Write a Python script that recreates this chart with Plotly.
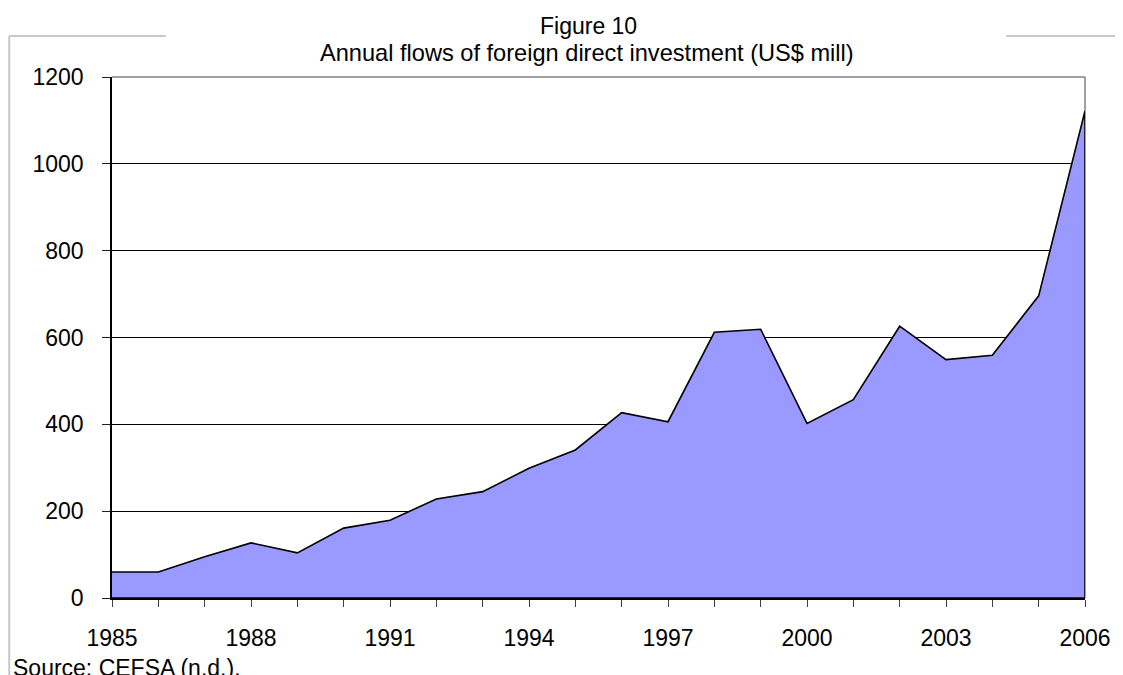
import plotly.graph_objects as go

years = list(range(1985, 2007))
fdi = [60, 60, 95, 127, 104, 161, 179, 228, 245, 299, 341, 427, 406, 612, 619, 402, 457, 626, 549, 559, 696, 1122]
x_ticks = [1985, 1988, 1991, 1994, 1997, 2000, 2003, 2006]
y_ticks = [0, 200, 400, 600, 800, 1000, 1200]
title_line1 = "Figure 10"
title_line2 = "Annual flows of foreign direct investment (US$ mill)"
source_text = "Source: CEFSA (n.d.)."

FONT = "Liberation Sans, Arial, sans-serif"
OFF = 8  # page body margin offset
VW, VH = 1123, 675
W, H = VW - OFF, VH - OFF
# plot area in viewport pixels
PL, PR, PT, PB = 112, 1087, 77, 598
L, R, T, B = PL - OFF, VW - PR, PT - OFF, VH - PB
PW, PH = PR - PL, PB - PT

def px(xpix):
    return (xpix - PL) / PW

def py(ypix):
    return (PB - ypix) / PH

fig = go.Figure()
fig.add_trace(go.Scatter(
    x=years + [years[-1], years[0]],
    y=fdi + [0, 0],
    mode="lines",
    fill="toself",
    fillcolor="#9999FF",
    line=dict(color="black", width=1.6),
    hoverinfo="skip",
    showlegend=False,
))

shapes = [
    dict(type="line", xref="paper", yref="paper", x0=0, x1=1, y0=1, y1=1,
         line=dict(color="#808080", width=1.5), layer="below"),
    dict(type="line", xref="paper", yref="paper", x0=1, x1=1, y0=0, y1=1,
         line=dict(color="#808080", width=1.5), layer="below"),
    dict(type="line", xref="paper", yref="paper", x0=px(9), x1=px(166), y0=py(36), y1=py(36),
         line=dict(color="#c8c8c8", width=2)),
    dict(type="line", xref="paper", yref="paper", x0=px(1008), x1=px(1123), y0=py(36), y1=py(36),
         line=dict(color="#c8c8c8", width=2)),
    dict(type="line", xref="paper", yref="paper", x0=px(9), x1=px(9), y0=py(36), y1=py(676),
         line=dict(color="#c8c8c8", width=2)),
]

annotations = [
    dict(text=title_line1, xref="paper", yref="paper", x=px(589), y=py(26),
         xanchor="center", yanchor="middle", showarrow=False,
         font=dict(family=FONT, size=23, color="black")),
    dict(text=title_line2, xref="paper", yref="paper", x=px(588), y=py(53),
         xanchor="center", yanchor="middle", showarrow=False,
         font=dict(family=FONT, size=23.6, color="black")),
    dict(text=source_text, xref="paper", yref="paper", x=px(11), y=py(668),
         xanchor="left", yanchor="middle", showarrow=False,
         font=dict(family=FONT, size=23, color="black")),
]

fig.update_layout(
    width=W, height=H,
    margin=dict(l=L, r=R, t=T, b=B, pad=0),
    paper_bgcolor="white", plot_bgcolor="white",
    font=dict(family=FONT, size=23, color="black"),
    shapes=shapes,
    annotations=annotations,
    xaxis=dict(
        range=[1985, 2006], tickmode="array", tickvals=years,
        ticktext=[str(y) if y in x_ticks else "" for y in years],
        ticks="outside", ticklen=7, tickwidth=1.2, tickcolor="#404040",
        showline=True, linecolor="black", linewidth=1.6,
        showgrid=False, zeroline=False, ticklabelstandoff=12,
        tickfont=dict(family=FONT, size=23, color="black"),
    ),
    yaxis=dict(
        range=[0, 1200], tickmode="array", tickvals=y_ticks,
        ticks="outside", ticklen=8, tickwidth=1.2, tickcolor="#202020",
        showline=True, linecolor="black", linewidth=1.6,
        showgrid=True, gridcolor="black", gridwidth=1,
        zeroline=False, ticklabelstandoff=14,
        tickfont=dict(family=FONT, size=23, color="black"),
    ),
)

fig.write_html("out.html")
